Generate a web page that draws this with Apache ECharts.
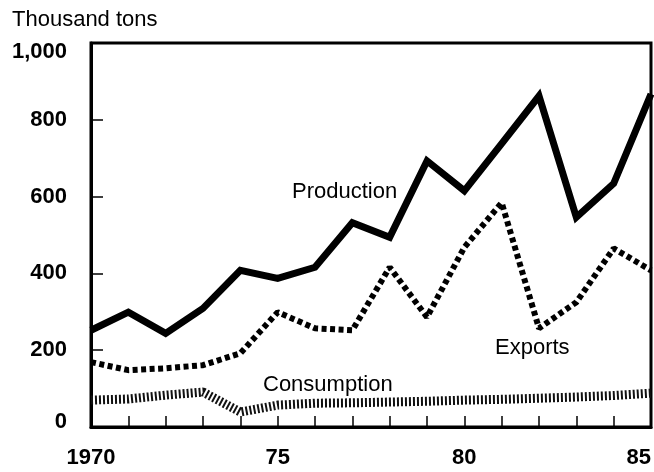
<!DOCTYPE html>
<html>
<head>
<meta charset="utf-8">
<script src="https://cdn.jsdelivr.net/npm/echarts@6/dist/echarts.min.js"></script>
<style>
  html, body { margin: 0; padding: 0; background: #fff; }
  #chart { width: 654px; height: 472px; }
</style>
</head>
<body>
<div id="chart"></div>
<script>
const years = ['1970', '71', '72', '73', '74', '75', '76', '77', '78', '79', '80', '81', '82', '83', '84', '85'];
const production = [252, 299, 244, 309, 408, 387, 416, 532, 494, 693, 615, 738, 862, 546, 634, 867];
const exports = [169, 148, 153, 161, 192, 299, 257, 252, 416, 286, 468, 584, 257, 325, 465, 408];
const consumption = [70, 73, 83, 91, 39, 57, 62, 63, 65, 67, 70, 72, 75, 78, 82, 88];

const chart = echarts.init(document.getElementById('chart'));

const labelFont = { fontFamily: 'Liberation Sans', fontSize: 22, color: '#000' };
const tickFont = { fontFamily: 'Liberation Sans', fontWeight: 'bold', fontSize: 22, color: '#000' };

chart.setOption({
  animation: false,
  backgroundColor: '#fff',
  grid: {
    left: 91, right: 3, top: 43, bottom: 45,
    show: true, borderColor: '#000', borderWidth: 3
  },
  xAxis: {
    type: 'category',
    data: years,
    boundaryGap: false,
    axisLine: { lineStyle: { color: '#000', width: 3 } },
    axisTick: { inside: true, interval: 0, length: 11, lineStyle: { color: '#000', width: 1.5 } },
    axisLabel: Object.assign({
      interval: 4,
      margin: 20,
      alignMaxLabel: 'right'
    }, tickFont)
  },
  yAxis: {
    type: 'value',
    min: 0, max: 1000, interval: 200,
    axisLine: { show: true, lineStyle: { color: '#000', width: 3 } },
    axisTick: { show: true, inside: true, length: 12, lineStyle: { color: '#000', width: 1.5 } },
    splitLine: { show: false },
    axisLabel: Object.assign({
      margin: 24,
      formatter: function (v) {
        if (v === 1000) return '{top|1,000}';
        if (v === 0) return '{bot|0}';
        return String(v);
      },
      rich: {
        top: Object.assign({ padding: [18, 0, 0, 0] }, tickFont),
        bot: Object.assign({ padding: [0, 0, 10, 0] }, tickFont)
      }
    }, tickFont)
  },
  series: [
    {
      name: 'Consumption',
      type: 'line',
      data: consumption,
      symbol: 'none',
      lineStyle: { color: '#111', width: 9, type: [2, 2], cap: 'butt' }
    },
    {
      name: 'Exports',
      type: 'line',
      data: exports,
      symbol: 'none',
      lineStyle: { color: '#000', width: 6, type: [5, 3.5], cap: 'butt' }
    },
    {
      name: 'Production',
      type: 'line',
      data: production,
      symbol: 'none',
      lineStyle: { color: '#000', width: 7, join: 'miter' }
    }
  ],
  graphic: [
    { type: 'text', left: 12, top: 9, style: Object.assign({ text: 'Thousand tons' }, labelFont) },
    { type: 'text', left: 292, top: 181, style: Object.assign({ text: 'Production' }, labelFont) },
    { type: 'text', left: 495, top: 337, style: Object.assign({ text: 'Exports' }, labelFont) },
    { type: 'text', left: 263, top: 374, style: Object.assign({ text: 'Consumption' }, labelFont) }
  ]
});
</script>
</body>
</html>
